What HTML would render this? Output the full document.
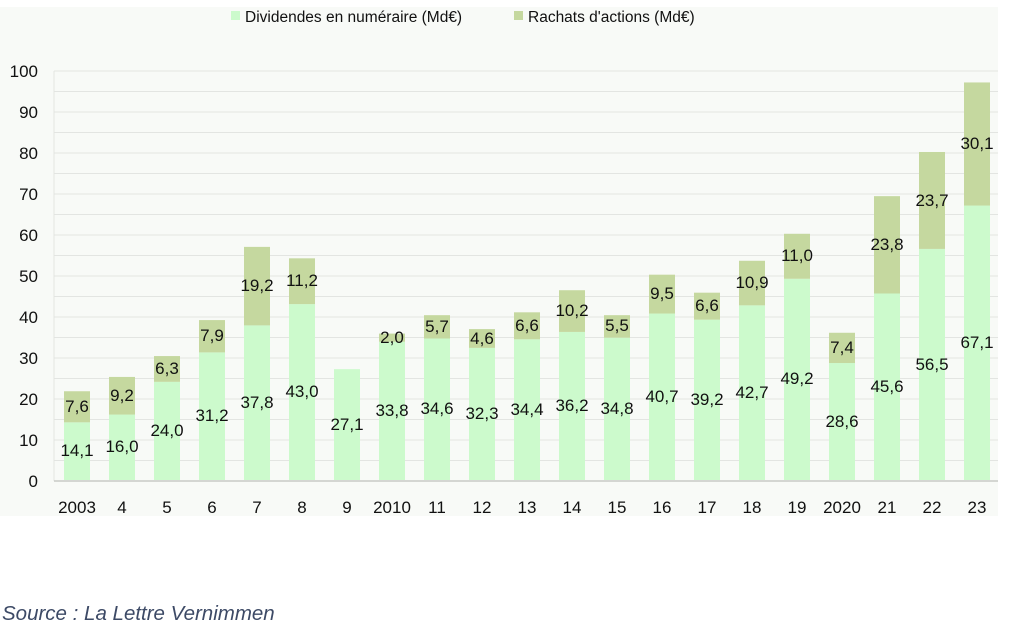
<!DOCTYPE html>
<html><head><meta charset="utf-8"><style>
body{margin:0;background:#fff;width:1013px;height:631px;overflow:hidden}
svg{display:block}
text{font-family:"Liberation Sans",sans-serif;fill:#111}
</style></head><body>
<svg width="1013" height="631" xmlns="http://www.w3.org/2000/svg">
<rect x="0" y="7" width="998" height="509" fill="#f8faf7"/>
<g stroke="#e3e5e2" stroke-width="1">
<line x1="54" x2="998" y1="71" y2="71"/><line x1="54" x2="998" y1="91.5" y2="91.5"/><line x1="54" x2="998" y1="112" y2="112"/><line x1="54" x2="998" y1="132.5" y2="132.5"/><line x1="54" x2="998" y1="153" y2="153"/><line x1="54" x2="998" y1="173.5" y2="173.5"/><line x1="54" x2="998" y1="194" y2="194"/><line x1="54" x2="998" y1="214.5" y2="214.5"/><line x1="54" x2="998" y1="235" y2="235"/><line x1="54" x2="998" y1="255.5" y2="255.5"/><line x1="54" x2="998" y1="276" y2="276"/><line x1="54" x2="998" y1="296.5" y2="296.5"/><line x1="54" x2="998" y1="317" y2="317"/><line x1="54" x2="998" y1="337.5" y2="337.5"/><line x1="54" x2="998" y1="358" y2="358"/><line x1="54" x2="998" y1="378.5" y2="378.5"/><line x1="54" x2="998" y1="399" y2="399"/><line x1="54" x2="998" y1="419.5" y2="419.5"/><line x1="54" x2="998" y1="440" y2="440"/><line x1="54" x2="998" y1="460.5" y2="460.5"/>
<line x1="54" x2="54" y1="71" y2="481"/>
</g>
<line x1="54" x2="998" y1="481" y2="481" stroke="#c8cac6" stroke-width="1.5"/>
<g font-size="17" text-anchor="end" font-weight="500">
<text x="38" y="77">100</text><text x="38" y="118">90</text><text x="38" y="159">80</text><text x="38" y="200">70</text><text x="38" y="241">60</text><text x="38" y="282">50</text><text x="38" y="323">40</text><text x="38" y="364">30</text><text x="38" y="405">20</text><text x="38" y="446">10</text><text x="38" y="487">0</text>
</g>
<g transform="translate(0,480) scale(1,-4.09)">
<g fill="#ccfacc">
<rect x="64" y="0" width="26" height="14.1"/><rect x="109" y="0" width="26" height="16"/><rect x="154" y="0" width="26" height="24"/><rect x="199" y="0" width="26" height="31.2"/><rect x="244" y="0" width="26" height="37.8"/><rect x="289" y="0" width="26" height="43"/><rect x="334" y="0" width="26" height="27.1"/><rect x="379" y="0" width="26" height="33.8"/><rect x="424" y="0" width="26" height="34.6"/><rect x="469" y="0" width="26" height="32.3"/><rect x="514" y="0" width="26" height="34.4"/><rect x="559" y="0" width="26" height="36.2"/><rect x="604" y="0" width="26" height="34.8"/><rect x="649" y="0" width="26" height="40.7"/><rect x="694" y="0" width="26" height="39.2"/><rect x="739" y="0" width="26" height="42.7"/><rect x="784" y="0" width="26" height="49.2"/><rect x="829" y="0" width="26" height="28.6"/><rect x="874" y="0" width="26" height="45.6"/><rect x="919" y="0" width="26" height="56.5"/><rect x="964" y="0" width="26" height="67.1"/>
</g>
<g fill="#c5d89f">
<rect x="64" y="14.1" width="26" height="7.6"/><rect x="109" y="16" width="26" height="9.2"/><rect x="154" y="24" width="26" height="6.3"/><rect x="199" y="31.2" width="26" height="7.9"/><rect x="244" y="37.8" width="26" height="19.2"/><rect x="289" y="43" width="26" height="11.2"/><rect x="379" y="33.8" width="26" height="2"/><rect x="424" y="34.6" width="26" height="5.7"/><rect x="469" y="32.3" width="26" height="4.6"/><rect x="514" y="34.4" width="26" height="6.6"/><rect x="559" y="36.2" width="26" height="10.2"/><rect x="604" y="34.8" width="26" height="5.5"/><rect x="649" y="40.7" width="26" height="9.5"/><rect x="694" y="39.2" width="26" height="6.6"/><rect x="739" y="42.7" width="26" height="10.9"/><rect x="784" y="49.2" width="26" height="11"/><rect x="829" y="28.6" width="26" height="7.4"/><rect x="874" y="45.6" width="26" height="23.8"/><rect x="919" y="56.5" width="26" height="23.7"/><rect x="964" y="67.1" width="26" height="30.1"/>
</g>
</g>
<g font-size="17" text-anchor="middle" font-weight="500">
<text x="77" y="456">14,1</text><text x="77" y="412">7,6</text>
<text x="122" y="452">16,0</text><text x="122" y="401">9,2</text>
<text x="167" y="436">24,0</text><text x="167" y="374">6,3</text>
<text x="212" y="421">31,2</text><text x="212" y="341">7,9</text>
<text x="257" y="408">37,8</text><text x="257" y="291">19,2</text>
<text x="302" y="397">43,0</text><text x="302" y="286">11,2</text>
<text x="347" y="430">27,1</text>
<text x="392" y="416">33,8</text><text x="392" y="343">2,0</text>
<text x="437" y="414">34,6</text><text x="437" y="332">5,7</text>
<text x="482" y="419">32,3</text><text x="482" y="344">4,6</text>
<text x="527" y="415">34,4</text><text x="527" y="331">6,6</text>
<text x="572" y="411">36,2</text><text x="572" y="316">10,2</text>
<text x="617" y="414">34,8</text><text x="617" y="331">5,5</text>
<text x="662" y="402">40,7</text><text x="662" y="299">9,5</text>
<text x="707" y="405">39,2</text><text x="707" y="311">6,6</text>
<text x="752" y="398">42,7</text><text x="752" y="288">10,9</text>
<text x="797" y="384">49,2</text><text x="797" y="261">11,0</text>
<text x="842" y="427">28,6</text><text x="842" y="353">7,4</text>
<text x="887" y="392">45,6</text><text x="887" y="250">23,8</text>
<text x="932" y="370">56,5</text><text x="932" y="206">23,7</text>
<text x="977" y="348">67,1</text><text x="977" y="149">30,1</text>
</g>
<g font-size="17" text-anchor="middle" font-weight="500">
<text x="77" y="513">2003</text><text x="122" y="513">4</text><text x="167" y="513">5</text><text x="212" y="513">6</text><text x="257" y="513">7</text><text x="302" y="513">8</text><text x="347" y="513">9</text><text x="392" y="513">2010</text><text x="437" y="513">11</text><text x="482" y="513">12</text><text x="527" y="513">13</text><text x="572" y="513">14</text><text x="617" y="513">15</text><text x="662" y="513">16</text><text x="707" y="513">17</text><text x="752" y="513">18</text><text x="797" y="513">19</text><text x="842" y="513">2020</text><text x="887" y="513">21</text><text x="932" y="513">22</text><text x="977" y="513">23</text>
</g>
<rect x="231" y="11" width="9" height="9" fill="#ccfacc"/>
<text x="245" y="22" font-size="15.5">Dividendes en numéraire (Md€)</text>
<rect x="514" y="11" width="9" height="9" fill="#c5d89f"/>
<text x="528" y="22" font-size="15.5">Rachats d'actions (Md€)</text>
<text x="2" y="620" font-size="20.5" font-style="italic" style="fill:#3d4a66">Source : La Lettre Vernimmen</text>
</svg>
</body></html>
